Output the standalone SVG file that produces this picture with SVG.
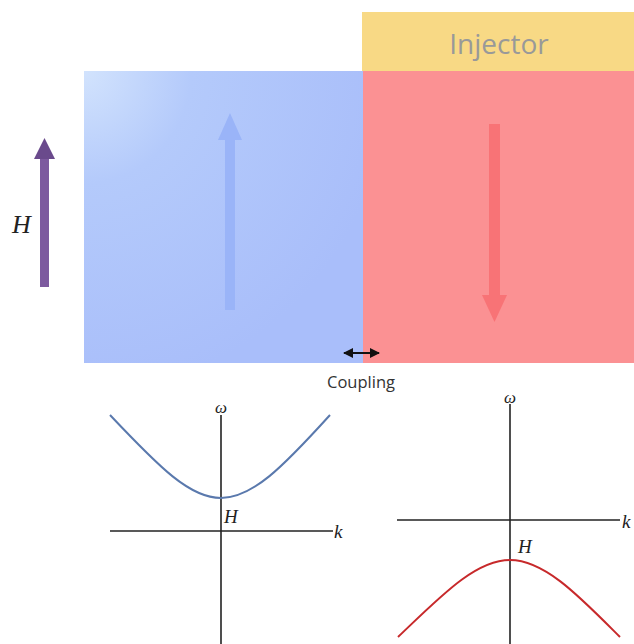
<svg xmlns="http://www.w3.org/2000/svg" width="634" height="644" viewBox="0 0 634 644">
<defs>
<radialGradient id="blueGrad" cx="0" cy="0" r="1.1" gradientUnits="objectBoundingBox">
<stop offset="0" stop-color="#d2e3fd"/>
<stop offset="0.35" stop-color="#b4cafb"/>
<stop offset="1" stop-color="#a9befa"/>
</radialGradient>
<marker id="ah" viewBox="0 0 10 10" refX="9" refY="5" markerWidth="5" markerHeight="5" orient="auto-start-reverse">
<path d="M0,0 L10,5 L0,10 z" fill="#111"/>
</marker>
</defs>
<style>
.axis{stroke:#222;stroke-width:1.6;fill:none}
.math{font-family:"Liberation Serif","DejaVu Serif",serif;font-style:italic;fill:#222}
.lbl{font-family:"Open Sans","Liberation Sans",sans-serif}
</style>
<rect width="634" height="644" fill="#fff"/>
<g id="blue-region">
<rect x="84" y="71" width="279" height="292" fill="url(#blueGrad)"/>
<rect x="225" y="140" width="10" height="170" fill="#9ab4f8"/>
<polygon points="218,140 242,140 230,113" fill="#9ab4f8"/>
</g>
<g id="injector">
<rect x="362" y="12" width="272" height="59" fill="#f8d985"/>
<text x="499" y="54" text-anchor="middle" font-size="28" fill="#999" class="lbl">Injector</text>
</g>
<g id="red-region">
<rect x="363" y="71" width="271" height="292" fill="#fb9193"/>
<rect x="489" y="124" width="11" height="171" fill="#f87376"/>
<polygon points="482,295 507,295 494.5,322" fill="#f87376"/>
</g>
<g id="field-arrow">
<rect x="40" y="158" width="9" height="129" fill="#7d5a9f"/>
<polygon points="34,159 55,159 44.5,138" fill="#6a4a8c"/>
<text x="12" y="233" font-size="26" class="math">H</text>
</g>
<g id="connectors">
<line x1="344" y1="353" x2="379" y2="353" stroke="#111" stroke-width="2" marker-start="url(#ah)" marker-end="url(#ah)"/>
</g>
<g id="coupling-label">
<text x="361" y="388" text-anchor="middle" font-size="16.5" fill="#333" class="lbl">Coupling</text>
</g>
<g id="plot-left">
<line class="axis" x1="221" y1="415" x2="221" y2="644"/>
<line class="axis" x1="110" y1="531" x2="333" y2="531"/>
<path d="M110,415 C160,468 190,498 221,498 C252,498 282,468 330,415" fill="none" stroke="#5a79ad" stroke-width="2"/>
<text x="221" y="413" text-anchor="middle" font-size="17" class="math">ω</text>
<text x="334" y="538" font-size="19" class="math">k</text>
<text x="224" y="523" font-size="19" class="math">H</text>
</g>
<g id="plot-right">
<line class="axis" x1="510" y1="404" x2="510" y2="644"/>
<line class="axis" x1="397" y1="520" x2="620" y2="520"/>
<path d="M398,637 C440,597 475,560 510,560 C545,560 580,597 620,637" fill="none" stroke="#c7292b" stroke-width="2"/>
<text x="510" y="403" text-anchor="middle" font-size="17" class="math">ω</text>
<text x="622" y="528" font-size="19" class="math">k</text>
<text x="518" y="553" font-size="19" class="math">H</text>
</g>
</svg>
